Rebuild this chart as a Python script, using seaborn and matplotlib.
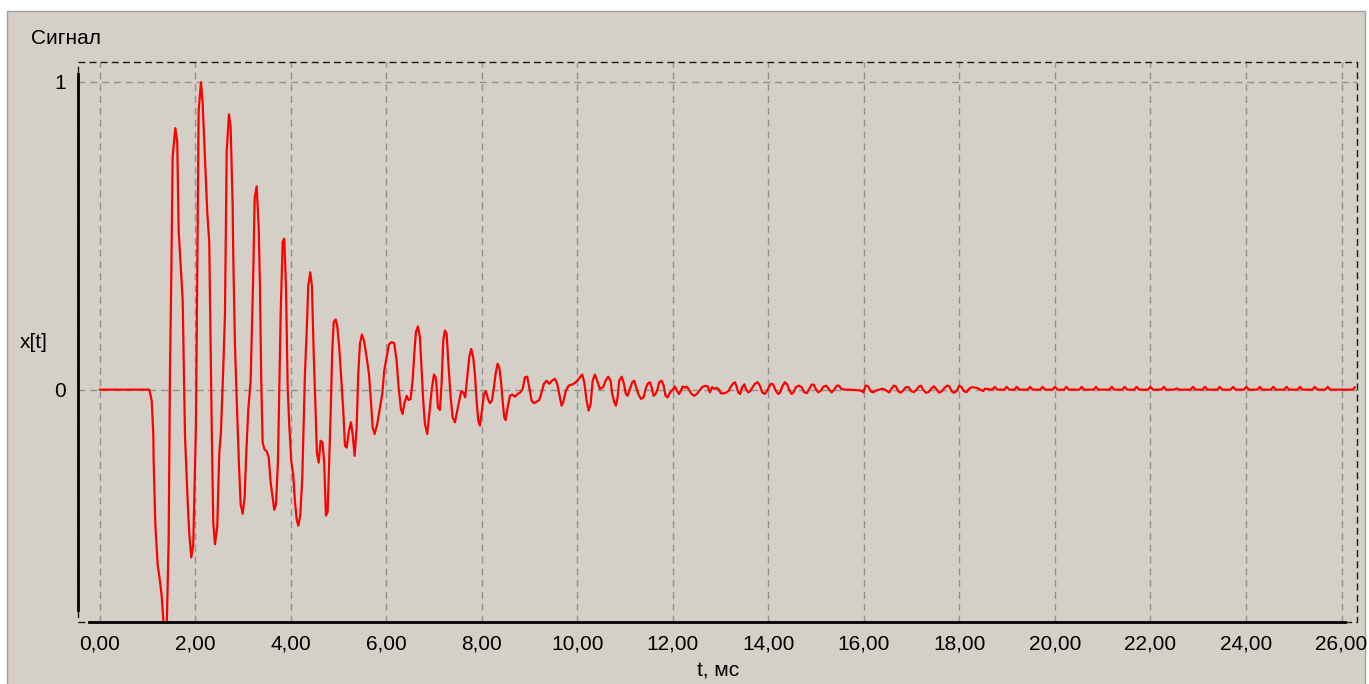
import pandas as pd
import matplotlib.pyplot as plt
import seaborn as sns
from matplotlib.patches import Rectangle
from matplotlib.ticker import MultipleLocator, FixedLocator, FuncFormatter

# signal: time in ms, amplitude (normalised)
t_onset = [0.0, 1.038, 1.089, 1.122, 1.13, 1.164, 1.214, 1.262, 1.298, 1.346,
           1.403, 1.444, 1.472, 1.499, 1.528, 1.583, 1.624, 1.654, 1.738, 1.786,
           1.842, 1.876, 1.918, 1.959, 2.016, 2.043, 2.072, 2.121, 2.156, 2.204,
           2.225, 2.253, 2.294, 2.345, 2.378, 2.414, 2.462, 2.504, 2.539, 2.587,
           2.623, 2.659, 2.707, 2.742, 2.784, 2.797, 2.832, 2.874, 2.916, 2.952,
           2.994, 3.035, 3.069, 3.111, 3.161, 3.195, 3.215, 3.245, 3.287, 3.329,
           3.356, 3.383, 3.412, 3.454, 3.496, 3.538, 3.580, 3.622, 3.655, 3.691,
           3.733, 3.760, 3.789, 3.831, 3.864, 3.900, 3.936, 3.969, 4.011, 4.053,
           4.088, 4.124, 4.158, 4.199, 4.241, 4.271, 4.298, 4.333, 4.367, 4.409,
           4.444, 4.480, 4.513, 4.549, 4.585, 4.626, 4.668, 4.702, 4.737, 4.773,
           4.806, 4.836, 4.869, 4.899, 4.940, 4.974, 5.016]
x_onset = [0.0, 0.0, -0.036, -0.142, -0.231, -0.433, -0.569, -0.622, -0.669, -0.78,
           -0.78, -0.492, 0.065, 0.36, 0.757, 0.849, 0.805, 0.515, 0.29, -0.148,
           -0.362, -0.468, -0.545, -0.504, -0.113, 0.36, 0.905, 0.998, 0.93, 0.752,
           0.669, 0.574, 0.48, -0.113, -0.433, -0.502, -0.445, -0.207, -0.137, 0.065,
           0.243, 0.775, 0.894, 0.852, 0.598, 0.433, 0.148, -0.054, -0.243, -0.373,
           -0.403, -0.35, -0.207, -0.065, 0.029, 0.243, 0.373, 0.622, 0.66, 0.527,
           0.337, 0.029, -0.172, -0.195, -0.2, -0.22, -0.302, -0.35, -0.39, -0.373,
           -0.231, 0.006, 0.243, 0.48, 0.49, 0.337, 0.006, -0.113, -0.231, -0.278,
           -0.362, -0.42, -0.442, -0.409, -0.29, -0.113, 0.053, 0.183, 0.337, 0.381,
           0.337, 0.124, -0.03, -0.207, -0.237, -0.166, -0.172, -0.243, -0.409, -0.397,
           -0.231, -0.077, 0.124, 0.219, 0.228, 0.207, 0.137]

t_mid = [5.100, 5.135, 5.171, 5.219, 5.261, 5.296, 5.338, 5.380, 5.414, 5.449,
         5.491, 5.533, 5.589, 5.638, 5.679, 5.715, 5.757, 5.811, 5.868, 5.916,
         5.958, 6.008, 6.056, 6.113, 6.167, 6.217, 6.259, 6.307, 6.343, 6.376,
         6.427, 6.468, 6.510, 6.552, 6.586, 6.621, 6.663, 6.705, 6.741, 6.774,
         6.810, 6.858, 6.900, 6.950, 6.998, 7.034, 7.055, 7.082, 7.124, 7.159,
         7.193, 7.228, 7.264, 7.306, 7.348, 7.390, 7.438, 7.486, 7.528, 7.570,
         7.611, 7.653, 7.695, 7.737, 7.779, 7.821, 7.856, 7.892, 7.925, 7.961,
         8.003, 8.045, 8.087, 8.128, 8.170, 8.212, 8.254, 8.289, 8.331, 8.365,
         8.401, 8.436, 8.470, 8.499, 8.541, 8.589, 8.637, 8.694, 8.750, 8.805,
         8.855, 8.903, 8.951, 8.993, 9.043, 9.091, 9.148, 9.202, 9.253, 9.301,
         9.357, 9.412, 9.468, 9.531, 9.579, 9.621, 9.671, 9.705, 9.761, 9.818,
         9.881, 9.935, 9.998, 10.055, 10.103, 10.145, 10.195, 10.237, 10.279, 10.321,
         10.369, 10.416, 10.473]
x_mid = [-0.068, -0.182, -0.188, -0.134, -0.106, -0.144, -0.215, -0.123, 0.051, 0.149,
         0.179, 0.16, 0.105, 0.051, -0.036, -0.123, -0.144, -0.112, -0.058, -0.014,
         0.062, 0.105, 0.147, 0.154, 0.151, 0.094, 0.008, -0.063, -0.079, -0.047,
         -0.02, -0.034, -0.03, 0.029, 0.116, 0.187, 0.205, 0.17, 0.062, -0.036,
         -0.112, -0.144, -0.079, -0.003, 0.049, 0.04, 0.008, -0.058, -0.066, 0.019,
         0.16, 0.192, 0.181, 0.073, -0.025, -0.09, -0.106, -0.068, -0.036, -0.005,
         -0.009, -0.025, 0.04, 0.105, 0.132, 0.105, 0.051, -0.036, -0.1, -0.117,
         -0.068, -0.014, -0.005, -0.03, -0.044, -0.036, 0.008, 0.051, 0.084, 0.073,
         0.029, -0.036, -0.09, -0.099, -0.058, -0.02, -0.016, -0.023, -0.014, -0.009,
         0.002, 0.04, 0.042, 0.008, -0.036, -0.044, -0.039, -0.034, -0.009, 0.019,
         0.029, 0.019, 0.029, 0.035, 0.019, -0.014, -0.052, -0.041, -0.003, 0.013,
         0.016, 0.02, 0.029, 0.04, 0.049, 0.024, -0.036, -0.068, -0.047, 0.029,
         0.049, 0.029, 0.002]

t_decay = [10.542, 10.592, 10.647, 10.697, 10.731, 10.773, 10.809, 10.844, 10.877, 10.928,
           10.976, 11.017, 11.053, 11.101, 11.150, 11.191, 11.233, 11.275, 11.332, 11.388,
           11.430, 11.472, 11.520, 11.555, 11.597, 11.639, 11.681, 11.715, 11.765, 11.807,
           11.848, 11.890, 11.945, 12.008, 12.043, 12.085, 12.127, 12.169, 12.204, 12.252,
           12.288, 12.336, 12.393, 12.447, 12.504, 12.560, 12.614, 12.671, 12.727, 12.775,
           12.824, 12.866, 12.916, 12.964, 13.006, 13.063, 13.125, 13.173, 13.215, 13.264,
           13.299, 13.335, 13.368, 13.410, 13.452, 13.500, 13.530, 13.578, 13.620, 13.662,
           13.719, 13.775, 13.823, 13.871, 13.927, 13.969, 14.011, 14.053, 14.101, 14.152,
           14.206, 14.248, 14.290, 14.346, 14.394, 14.444, 14.486, 14.528, 14.576, 14.639,
           14.696, 14.750, 14.807, 14.855, 14.905, 14.947, 14.995, 15.043, 15.100, 15.156,
           15.210, 15.267, 15.324, 15.378, 15.435, 15.475, 15.532, 15.601, 15.706]
x_decay = [0.008, 0.029, 0.042, 0.029, -0.014, -0.041, -0.052, -0.025, 0.029, 0.042,
           0.019, -0.014, -0.02, 0.002, 0.024, 0.029, 0.008, -0.014, -0.03, -0.025,
           0.002, 0.019, 0.024, 0.008, -0.02, -0.014, 0.002, 0.024, 0.029, 0.013,
           -0.02, -0.025, -0.009, 0.002, 0.01, -0.003, -0.014, -0.003, 0.01, 0.006,
           0.01, 0.0, -0.014, -0.02, -0.014, -0.003, 0.008, 0.012, 0.011, -0.009,
           0.008, 0.002, 0.006, 0.0, -0.012, -0.012, -0.009, -0.003, 0.01, 0.02,
           0.024, 0.01, -0.009, -0.014, 0.008, 0.017, 0.002, -0.009, -0.005, 0.006,
           0.019, 0.024, 0.013, -0.009, -0.014, -0.005, 0.008, 0.019, 0.017, -0.003,
           -0.014, -0.009, 0.01, 0.024, 0.017, -0.003, -0.014, -0.009, 0.008, 0.013,
           0.008, -0.009, -0.011, 0.002, 0.016, 0.016, 0.002, -0.009, -0.003, 0.01,
           0.013, 0.002, -0.009, 0.0, 0.013, 0.013, 0.002, 0.0, 0.0]

t_late = [15.951, 15.985, 16.041, 16.090, 16.140, 16.194, 16.251, 16.320, 16.391, 16.439,
          16.487, 16.529, 16.579, 16.627, 16.669, 16.717, 16.768, 16.822, 16.879, 16.935,
          16.990, 17.046, 17.103, 17.151, 17.193, 17.241, 17.298, 17.354, 17.409, 17.465,
          17.522, 17.576, 17.633, 17.689, 17.744, 17.786, 17.836, 17.884, 17.941, 17.995,
          18.045, 18.093, 18.150, 18.204, 18.260, 18.359, 18.443, 18.497, 18.533]
x_late = [-0.003, -0.009, 0.013, 0.011, -0.005, -0.009, -0.003, 0.0, 0.003, 0.0,
          -0.005, -0.009, 0.003, 0.013, 0.011, -0.005, -0.01, -0.003, 0.008, 0.008,
          -0.005, -0.008, 0.0, 0.01, 0.013, 0.0, -0.01, -0.008, 0.003, 0.011,
          0.0, -0.01, -0.005, 0.006, 0.013, 0.011, -0.005, -0.01, -0.005, 0.013,
          0.008, -0.005, -0.008, 0.003, 0.008, 0.006, 0.0, -0.005, 0.003]

t_tail = [18.69, 18.74, 18.79, 18.94, 18.99, 19.04, 19.15, 19.20, 19.25,
          19.43, 19.48, 19.53, 19.69, 19.74, 19.79, 19.95, 20.00, 20.05,
          20.19, 20.24, 20.29, 20.51, 20.56, 20.61, 20.81, 20.86, 20.91,
          21.14, 21.19, 21.24, 21.41, 21.46, 21.51, 21.66, 21.71, 21.76,
          21.95, 22.00, 22.05, 22.23, 22.28, 22.33, 22.50, 22.55, 22.60,
          22.84, 22.89, 22.94, 23.09, 23.14, 23.19, 23.40, 23.45, 23.50,
          23.68, 23.73, 23.78, 23.96, 24.01, 24.06, 24.24, 24.29, 24.34,
          24.52, 24.57, 24.62, 24.80, 24.85, 24.90, 25.08, 25.13, 25.18,
          25.39, 25.44, 25.49, 25.66, 25.71, 25.76, 26.24, 26.28]
x_tail = [0.0, 0.009, 0.0, 0.0, 0.009, 0.0, 0.0, 0.009, 0.0,
          0.0, 0.009, 0.0, 0.0, 0.009, 0.0, 0.0, 0.009, 0.0,
          0.0, 0.009, 0.0, 0.0, 0.009, 0.0, 0.0, 0.009, 0.0,
          0.0, 0.009, 0.0, 0.0, 0.009, 0.0, 0.0, 0.009, 0.0,
          0.0, 0.009, 0.0, 0.0, 0.009, 0.0, 0.0, 0.004, 0.0,
          0.0, 0.009, 0.0, 0.0, 0.009, 0.0, 0.0, 0.009, 0.0,
          0.0, 0.009, 0.0, 0.0, 0.009, 0.0, 0.0, 0.009, 0.0,
          0.0, 0.009, 0.0, 0.0, 0.009, 0.0, 0.0, 0.009, 0.0,
          0.0, 0.009, 0.0, 0.0, 0.009, 0.0, 0.0, 0.008]

x_major = [0, 2, 4, 6, 8, 10, 12, 14, 16, 18, 20, 22, 24, 26]
y_major = [0, 1]

df = pd.DataFrame({
    't': t_onset + t_mid + t_decay + t_late + t_tail,
    'x': x_onset + x_mid + x_decay + x_late + x_tail,
})

BG = '#D4D0C8'
W, H = 1369, 684
FS = 15

sns.set_style("white")
plt.rcParams['font.family'] = ['Liberation Sans', 'DejaVu Sans']
plt.rcParams['text.color'] = 'black'

fig = plt.figure(figsize=(W / 100, H / 100), dpi=100)
fig.patch.set_facecolor('white')
# grey window panel behind everything
fig.patches.append(Rectangle((6.5 / W, -0.01), (1365 - 6.5) / W, (H - 11) / H + 0.01,
                             transform=fig.transFigure, facecolor=BG,
                             edgecolor='#A0A0A0', linewidth=1, zorder=-10))

ax = fig.add_axes([77.7 / W, (H - 621.5) / H, (1357.3 - 77.7) / W, (621.5 - 62.3) / H])
ax.set_facecolor(BG)

sns.lineplot(data=df, x='t', y='x', ax=ax, color='#FF0000', linewidth=1.6,
             estimator=None, sort=False, zorder=3)

ax.set_xlim(-0.46, 26.33)
ax.set_ylim(-0.753, 1.063)

ax.xaxis.set_major_locator(FixedLocator(x_major))
ax.xaxis.set_minor_locator(MultipleLocator(0.5))
ax.yaxis.set_major_locator(FixedLocator(y_major))
ax.yaxis.set_minor_locator(MultipleLocator(0.25))
ax.xaxis.set_major_formatter(FuncFormatter(lambda v, p: f"{v:.2f}".replace('.', ',')))
ax.yaxis.set_major_formatter(FuncFormatter(lambda v, p: f"{v:g}"))

ax.tick_params(axis='x', which='major', direction='out', length=6.5, width=1,
               color='#808080', labelsize=FS, labelcolor='black', pad=3)
ax.tick_params(axis='x', which='minor', direction='out', length=3.5, width=1, color='#808080')
ax.tick_params(axis='y', which='major', direction='out', length=7, width=1,
               color='#808080', labelsize=FS, labelcolor='black', pad=1.5)
ax.tick_params(axis='y', which='minor', direction='out', length=3.5, width=1, color='#808080')

ax.grid(True, which='major', color='#909090', linestyle=(0, (5, 3.5)), linewidth=1)
ax.set_axisbelow(True)

for side in ['top', 'right']:
    ax.spines[side].set_visible(False)
ax.spines['left'].set_bounds(-0.717, 1.025)
ax.spines['bottom'].set_bounds(-0.22, 26.07)
for side in ['left', 'bottom']:
    ax.spines[side].set_color('black')
    ax.spines[side].set_linewidth(2)
    ax.spines[side].set_zorder(4)

# dashed frame round the plot area
ax.add_patch(Rectangle((0, 0), 1, 1, transform=ax.transAxes, fill=False,
                       edgecolor='#1a1a1a', linewidth=1, linestyle=(0, (5, 3)),
                       clip_on=False, zorder=2))

ax.set_xlabel('')
ax.set_ylabel('')
fig.text(31 / W, 1 - 44 / H, 'Сигнал', fontsize=FS, ha='left', va='baseline')
fig.text(20 / W, 1 - 342 / H, 'x[t]', fontsize=FS, ha='left', va='center')
fig.text(718 / W, 1 - 671 / H, 't, мс', fontsize=FS, ha='center', va='center')

fig.savefig('out.png', dpi=100, facecolor=fig.get_facecolor())
